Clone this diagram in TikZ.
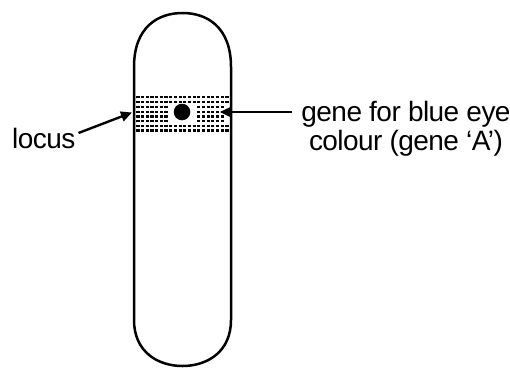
\documentclass[tikz,border=0pt]{standalone}
\usepackage{fontspec}
\setmainfont[LetterSpace=-2]{Liberation Sans}
\usetikzlibrary{arrows.meta}

\begin{document}
\begin{tikzpicture}[x=1pt,y=-1pt,
outline/.style={line width=2.5pt,line join=round},
arr/.style={-{Triangle[length=11pt,width=10pt]},line width=2.4pt},
lbl/.style={font=\fontsize{28}{28.5}\selectfont,inner sep=0pt,align=center}
]
\useasboundingbox (0,0) rectangle (510,367);
% chromosome
\draw[outline] (134,320) -- (134,67)
  .. controls (134,27) and (158,13) .. (182.5,13)
  .. controls (207,13) and (231,27) .. (231,67) -- (231,320)
  .. controls (231,352) and (207,366) .. (182.5,366)
  .. controls (158,366) and (134,352) .. (134,320) -- cycle;
% dotted band across the chromosome
\foreach \yy in {97,102,126,130.7}
  \foreach \i in {0,...,19}
    \fill (136.4+4.68*\i,\yy-1.4) rectangle ++(3.2,2.8);
\foreach \yy in {107,112,116.5,121}{
  \foreach \i in {0,...,6}
    \fill (136.4+4.68*\i,\yy-1.4) rectangle ++(3.2,2.8);
  \foreach \i in {13,...,18}
    \fill (136.4+4.68*\i,\yy-1.4) rectangle ++(3.2,2.8);
}
\node[circle,fill,minimum size=16.6pt,inner sep=0pt] (allele) at (182,112) {};
% labels
\node[lbl,anchor=base west,inner sep=3pt] (locus) at (9,148) {locus};
\node[lbl] (genetext) at (406,129) {gene for blue eye\\colour (gene ‘A’)};
\coordinate (bandleft) at (132,112.5);
\coordinate (bandright) at (220,112);
\draw[arr] ([yshift=5pt]locus.east) -- (bandleft);
\draw[arr] ([xshift=-9pt]genetext.west |- allele) -- (bandright);
\end{tikzpicture}
\end{document}
